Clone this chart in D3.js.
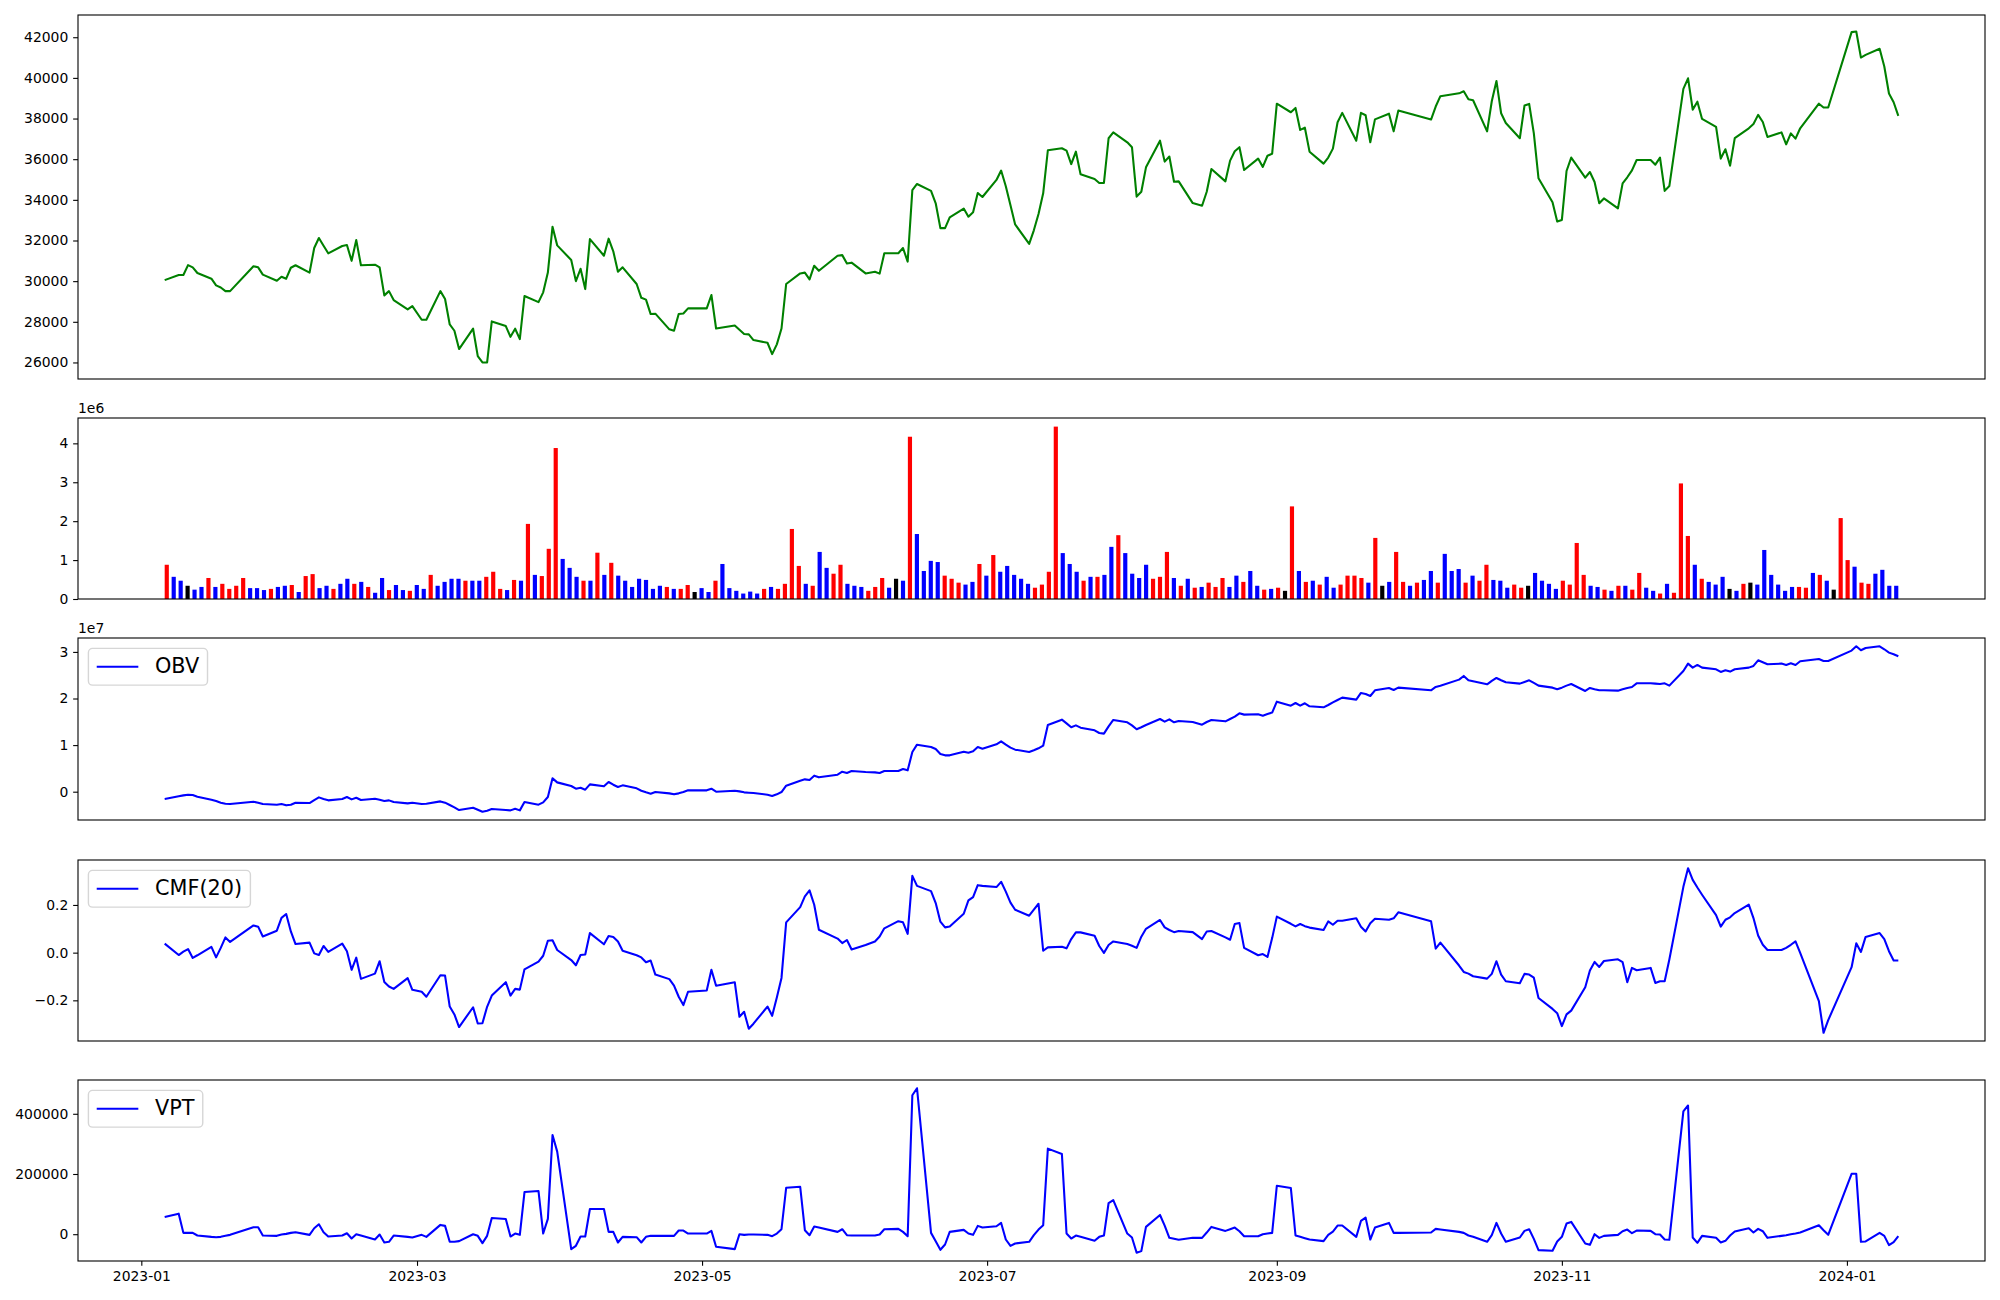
<!DOCTYPE html>
<html><head><meta charset="utf-8">
<script src="https://cdn.jsdelivr.net/npm/d3@7"></script>
<style>body{margin:0;background:#fff}svg{display:block}</style>
</head><body>
<svg id="c" width="2000" height="1300"></svg>
<script>
// ---------- data ----------
const startDate = "2023-01-06", endDate = "2024-01-12";
const holidays = ["2023-01-23","2023-01-24","2023-03-01","2023-05-01","2023-05-05","2023-05-29","2023-06-06","2023-08-15","2023-09-28","2023-09-29","2023-10-02","2023-10-03","2023-10-09","2023-12-25","2023-12-29","2024-01-01"];

const price = [30050,30300,30300,30790,30680,30400,30120,29790,29690,29510,
29510,30730,30680,30320,30020,30220,30120,30660,30780,30420,
31630,32120,31740,31370,31730,31780,31000,32020,30780,30810,
30680,29300,29510,29070,28610,28770,28100,28100,29510,29120,
27870,27560,26660,27660,26310,26000,26000,28020,27790,27260,
27660,27150,29270,28970,29450,30420,32680,31760,31040,30000,
30610,29610,32070,31250,32090,31470,30460,30680,29860,29180,
29090,28380,28400,27630,27560,28380,28410,28660,28660,29320,
27670,27820,27610,27400,27380,27100,26970,26410,26890,27670,
29860,30380,30420,30090,30760,30510,31250,31280,30870,30910,
30380,30460,30370,31370,31370,31630,30960,34480,34780,34440,
33830,32610,32610,33140,33570,33170,33390,34340,34140,34980,
35440,34670,33730,32790,31830,32500,33300,34320,36440,36540,
36420,35760,36370,35260,35030,34830,34830,37030,37320,36830,
36590,34160,34400,35600,36910,35880,36130,34890,34910,33840,
33710,34400,35520,34910,35930,36390,36590,35470,36030,35620,
36170,36270,38730,38310,38520,37440,37550,36370,35780,36080,
36520,37820,38280,36910,38280,38160,36830,37960,38240,37370,
38390,37950,38590,39100,39240,39340,38950,38900,37370,38850,
39850,38260,37780,37030,38640,38720,37270,35060,33880,32930,
33010,35420,36080,35090,35370,34880,33830,34070,33580,34810,
35110,35450,35960,35960,35730,36080,34440,34680,39460,39980,
38440,38830,37980,37590,36030,36490,35680,37040,37520,37730,
38180,37830,37090,37320,36730,37270,37010,37520,38730,38540,
38540,42250,42280,41000,41130,41430,40560,39230,38800,38130];

const volume = [880000,570000,470000,340000,240000,310000,540000,310000,390000,260000,
340000,540000,280000,280000,230000,260000,310000,340000,360000,180000,
590000,640000,280000,340000,260000,390000,520000,390000,440000,310000,
160000,540000,230000,360000,230000,210000,360000,260000,620000,340000,
440000,520000,520000,470000,470000,470000,570000,700000,260000,230000,
490000,470000,1930000,620000,590000,1290000,3880000,1030000,800000,570000,
470000,470000,1190000,620000,930000,600000,470000,310000,520000,490000,
260000,340000,310000,260000,260000,360000,180000,280000,180000,470000,
900000,280000,210000,140000,190000,140000,260000,310000,260000,390000,
1800000,850000,390000,340000,1210000,800000,650000,880000,390000,340000,
310000,210000,310000,540000,290000,520000,470000,4170000,1670000,720000,
980000,950000,600000,520000,420000,370000,440000,900000,600000,1130000,
700000,850000,620000,520000,390000,290000,370000,700000,4430000,1180000,
900000,700000,470000,570000,570000,620000,1340000,1640000,1180000,650000,
540000,880000,520000,570000,1210000,540000,340000,520000,290000,310000,
420000,310000,540000,310000,600000,440000,720000,340000,240000,260000,
290000,210000,2380000,720000,440000,470000,370000,570000,290000,370000,
600000,600000,540000,420000,1570000,340000,440000,1210000,440000,340000,
420000,490000,720000,420000,1160000,720000,770000,420000,600000,470000,
880000,490000,470000,290000,370000,290000,340000,670000,470000,390000,
260000,470000,370000,1440000,620000,340000,310000,240000,210000,340000,
340000,240000,670000,290000,210000,140000,390000,160000,2970000,1620000,
880000,520000,440000,370000,570000,260000,210000,390000,420000,370000,
1260000,620000,370000,210000,310000,310000,290000,670000,620000,470000,
240000,2080000,1000000,830000,420000,390000,650000,750000,340000,340000];

// r = up (red), b = down (blue), k = unchanged (black)
const volumeDirection = ("rbbkbbrbrr"+"rrbbbrbbrb"+"rrbbrbbrbr"+"bbrbbrbbrb"+"bbbrbbrrrb"+
"rbrbrrrbbb"+"rbrbrbbbbb"+"bbrbrrkbbr"+"bbbbbbrbrr"+"rrbrbbrrbb"+
"brrrbkbrbb"+"bbrrrbbrbr"+"bbbbbrrrrb"+"bbrbrbbrbb"+"bbrrrbrbrb"+
"rrrbbrbbrb"+"rkrbrbrbbr"+"rrrbrkbrrb"+"rbbrbbbrbr"+"rbbbrrkbbb"+
"brrrrbbrbr"+"brrbbrbrrr"+"brbbbkbrkb"+"bbbbbrrbrb"+"krrbrrbbbb").split("");

const obv = [-1570000,-1000000,-790000,-640000,-720000,-1070000,-1720000,-2000000,-2360000,-2580000,
-2650000,-2150000,-2360000,-2650000,-2790000,-2650000,-2930000,-2790000,-2360000,-2430000,
-1790000,-1220000,-1570000,-1860000,-1570000,-1150000,-1650000,-1290000,-1790000,-1500000,
-1720000,-2000000,-1860000,-2220000,-2510000,-2360000,-2650000,-2580000,-2080000,-2360000,
-2860000,-3360000,-3940000,-3440000,-3870000,-4300000,-4080000,-3720000,-3940000,-4010000,
-3650000,-4010000,-2220000,-2790000,-2290000,-1150000,2860000,2000000,1220000,640000,
860000,430000,1570000,1150000,2080000,1500000,1000000,1360000,720000,210000,
-140000,-430000,-70000,-360000,-570000,-360000,-70000,290000,290000,640000,
0,210000,70000,-140000,-210000,-290000,-640000,-930000,-570000,-70000,
1290000,2360000,2650000,2510000,3440000,3080000,3650000,4290000,4010000,4440000,
4220000,4150000,4010000,4440000,4440000,4870000,4580000,8520000,10090000,9590000,
9160000,8090000,7800000,7800000,8590000,8380000,8660000,9590000,9230000,10160000,
10810000,10090000,9450000,9020000,8520000,8880000,9310000,9880000,14320000,15460000,
14670000,13820000,14240000,13740000,13170000,12600000,12460000,14030000,15390000,14890000,
14240000,13390000,13820000,14320000,15600000,15030000,15530000,14890000,15180000,14960000,
14390000,14960000,15390000,15100000,15600000,16110000,16820000,16540000,16610000,16320000,
16680000,16970000,19330000,18470000,19040000,18470000,18970000,18330000,18110000,18610000,
19180000,19690000,20190000,19760000,21190000,20970000,20540000,21760000,22260000,21830000,
22330000,21760000,22480000,22760000,24050000,24840000,23910000,23690000,23050000,23770000,
24410000,23910000,23480000,23190000,23550000,23910000,23340000,22760000,22330000,21980000,
22330000,22760000,23120000,21620000,22260000,21980000,21760000,21760000,21690000,21980000,
22260000,22480000,23260000,23260000,23190000,23120000,23260000,22760000,25910000,27490000,
26630000,27200000,26630000,26270000,25700000,26060000,25770000,26270000,26630000,26990000,
28200000,27770000,27340000,27490000,27200000,27560000,27200000,27990000,28490000,28060000,
28060000,30280000,31210000,30350000,30850000,31210000,30570000,29850000,29490000,29060000];

const cmf = [0.038,-0.010,0.004,0.015,-0.022,-0.011,0.024,-0.020,0.020,0.064,
0.045,0.114,0.109,0.068,0.092,0.146,0.162,0.089,0.036,0.042,
-0.003,-0.010,0.028,0.003,0.038,0.006,-0.072,-0.021,-0.110,-0.088,
-0.036,-0.123,-0.142,-0.152,-0.107,-0.156,-0.164,-0.185,-0.095,-0.096,
-0.226,-0.259,-0.312,-0.229,-0.297,-0.296,-0.227,-0.180,-0.124,-0.180,
-0.152,-0.155,-0.070,-0.038,-0.013,0.050,0.052,0.011,-0.031,-0.053,
-0.010,-0.008,0.082,0.035,0.070,0.066,0.047,0.008,-0.011,-0.020,
-0.040,-0.033,-0.092,-0.111,-0.138,-0.185,-0.220,-0.164,-0.159,-0.072,
-0.139,-0.124,-0.269,-0.248,-0.319,-0.298,-0.226,-0.265,-0.188,-0.106,
0.127,0.191,0.236,0.261,0.201,0.096,0.059,0.040,0.053,0.013,
0.032,0.047,0.068,0.102,0.132,0.127,0.079,0.322,0.280,0.258,
0.208,0.130,0.106,0.110,0.163,0.219,0.233,0.283,0.280,0.275,
0.297,0.256,0.210,0.180,0.155,0.180,0.205,0.008,0.022,0.025,
0.018,0.057,0.085,0.085,0.071,0.028,-0.001,0.032,0.047,0.036,
0.029,0.020,0.067,0.100,0.137,0.106,0.095,0.086,0.091,0.086,
0.057,0.089,0.091,0.064,0.054,0.120,0.124,0.020,-0.011,-0.006,
-0.018,0.061,0.151,0.121,0.110,0.120,0.111,0.105,0.095,0.131,
0.117,0.134,0.134,0.144,0.109,0.089,0.123,0.142,0.138,0.144,
0.169,0.132,0.017,0.042,-0.054,-0.081,-0.088,-0.099,-0.109,-0.089,
-0.036,-0.092,-0.120,-0.128,-0.089,-0.092,-0.105,-0.190,-0.236,-0.254,
-0.308,-0.259,-0.243,-0.145,-0.075,-0.039,-0.060,-0.035,-0.028,-0.040,
-0.124,-0.064,-0.074,-0.064,-0.127,-0.120,-0.120,-0.029,0.276,0.354,
0.305,0.273,0.243,0.157,0.109,0.138,0.148,0.166,0.201,0.145,
0.072,0.033,0.011,0.011,0.020,0.033,0.047,-0.001,-0.203,-0.336,
-0.283,-0.061,0.039,0.003,0.066,0.082,0.057,0.006,-0.033,-0.033];

const vpt = [57300,68300,4400,4400,4400,-4400,-8800,-9900,-8800,-5500,
-2200,23100,23100,-4400,-5500,-1100,1100,4400,6600,-2200,
19800,33100,6600,-7700,-4400,3300,-14300,0,-4400,-17600,
-1100,-27500,-25300,-4400,-8800,-11000,-2200,-8800,30900,27600,
-25300,-25300,-23100,0,-5500,-29800,-5500,54000,50700,-7700,
2200,-2200,140000,143300,2200,50700,329500,274400,-49600,-38600,
-7700,-7700,83800,83800,7700,7700,-27500,-8800,-9900,-27500,
-8800,-5500,-5500,-5500,-5500,12100,12100,2200,2200,11000,
-41900,-49600,0,-2200,-1100,-1100,-2200,-6600,2200,16500,
154300,157600,13200,-3300,25300,22000,7700,16500,-3300,-4400,
-4400,-4400,-1100,16500,17600,7700,-6600,461700,484900,4400,
-23100,-51800,-34200,7700,14300,2200,-2200,27600,22000,26400,
37500,-17600,-38600,-30900,-25300,-3300,15400,29800,284300,266700,
2200,-14300,-4400,-8800,-22000,-8800,-4400,103600,113500,2200,
-11000,-61700,-56200,24200,63900,28700,-12100,-15400,-18700,-12100,
-12100,5500,24200,11000,16500,22000,9900,-6600,-6600,0,
2200,4400,160900,153200,-4400,-8800,-13200,-17600,-23100,-2200,
8800,28700,28700,-8800,44100,55100,-17600,22000,37500,4400,
4400,5500,17600,15400,7700,4400,-4400,-8800,-25300,-3300,
37500,2200,-25300,-11000,11000,16500,-15400,-52900,-55100,-24200,
-8800,35300,40800,-30900,-35300,0,-12100,-5500,-2200,9900,
15400,3300,12100,11000,0,-1100,-17600,-18700,407700,427600,
-11000,-28700,-5500,-12100,-27500,-22000,-4400,8800,19800,5500,
17600,9900,-12100,-5500,-3300,0,2200,5500,29800,13200,
-2200,200600,200600,-25300,-24200,4400,-5500,-36400,-26400,-6600];

const priceTicks = [26000,28000,30000,32000,34000,36000,38000,40000,42000];
const volumeTicks = [0,1e6,2e6,3e6,4e6];
const obvTicks = [0,1e7,2e7,3e7];
const cmfTicks = [-0.2,0,0.2];
const vptTicks = [0,200000,400000];
const dateTicks = ["2023-01-01","2023-03-01","2023-05-01","2023-07-01","2023-09-01","2023-11-01","2024-01-01"];

// ---------- trading calendar ----------
const parse = d3.utcParse("%Y-%m-%d"), fmtDay = d3.utcFormat("%Y-%m-%d");
const hol = new Set(holidays);
const dates = d3.utcDay.range(parse(startDate), d3.utcDay.offset(parse(endDate), 1))
  .filter(d => d.getUTCDay() !== 0 && d.getUTCDay() !== 6 && !hol.has(fmtDay(d)));

// ---------- layout ----------
const svg = d3.select("#c");
const FONT = "DejaVu Sans";
const L = 78, R = 1985;
const panels = [[15,379],[418,599],[638,820],[860,1041],[1080,1261]];
const TICK = 4.86, PAD = 4.86, FS = 13.9;

function pad5(ext){ const s = ext[1]-ext[0]; return [ext[0]-0.05*s, ext[1]+0.05*s]; }

const t0 = dates[0].getTime(), t1 = dates[dates.length-1].getTime();
const x = d3.scaleUtc().domain(pad5([t0,t1]).map(t => new Date(t))).range([L, R]);

const BW = 0.6, n = volume.length;
const xi = d3.scaleLinear().domain(pad5([-BW/2, n-1+BW/2])).range([L, R]);

function frame(p){
  const [top,bot] = panels[p];
  svg.append("rect").attr("x",L).attr("y",top).attr("width",R-L).attr("height",bot-top)
    .attr("fill","none").attr("stroke","#000").attr("stroke-width",1.1);
}
function yAxis(p, y, ticks, fmt){
  const g = svg.append("g").attr("transform",`translate(${L},0)`);
  const ax = d3.axisLeft(y).tickValues(ticks).tickFormat(fmt).tickSize(TICK).tickPadding(PAD);
  g.call(ax);
  g.select(".domain").remove();
  g.selectAll(".tick line").attr("stroke","#000").attr("stroke-width",1.1);
  g.selectAll(".tick text").attr("font-family",FONT).attr("font-size",FS).attr("fill","#000");
}
function offsetText(p, txt){
  svg.append("text").attr("x",L).attr("y",panels[p][0]-5).attr("font-family",FONT)
    .attr("font-size",FS).attr("fill","#000").text(txt);
}
function legend(p, label){
  const fs = 20.8, top = panels[p][0] + 10.4, left = L + 10.4;
  const t = svg.append("text").attr("font-family",FONT).attr("font-size",fs).text(label)
    .attr("x", left + 0.4*fs + 2*fs + 0.8*fs).attr("y", top + 0.4*fs + 0.76*fs).attr("fill","#000");
  const tw = t.node().getComputedTextLength();
  const w = 0.4*fs + 2*fs + 0.8*fs + tw + 0.4*fs, h = 0.8*fs + 0.968*fs;
  svg.insert("rect", () => t.node()).attr("x",left).attr("y",top).attr("width",w).attr("height",h)
    .attr("rx",4.2).attr("ry",4.2).attr("fill","rgba(255,255,255,0.8)")
    .attr("stroke","rgba(204,204,204,0.8)").attr("stroke-width",1.39);
  svg.append("line").attr("x1",left+0.4*fs).attr("x2",left+2.4*fs)
    .attr("y1",top+h/2).attr("y2",top+h/2).attr("stroke","blue").attr("stroke-width",2.08);
}
function linePanel(p, values, color, ticks, fmt){
  const [top,bot] = panels[p];
  const y = d3.scaleLinear().domain(pad5(d3.extent(values))).range([bot, top]);
  svg.append("path").datum(values)
    .attr("d", d3.line().x((v,i) => x(dates[i])).y(v => y(v)))
    .attr("fill","none").attr("stroke",color).attr("stroke-width",2.08)
    .attr("stroke-linejoin","round").attr("stroke-linecap","butt");
  yAxis(p, y, ticks, fmt);
  frame(p);
  return y;
}

// Panel 1: price
linePanel(0, price, "green", priceTicks, d => String(d));

// Panel 2: volume
{
  const [top,bot] = panels[1];
  const y = d3.scaleLinear().domain([0, d3.max(volume)*1.05]).range([bot, top]);
  const colorOf = {r:"red", b:"blue", k:"black"};
  svg.append("g").selectAll("rect").data(volume).join("rect")
    .attr("x",(v,i) => xi(i - BW/2)).attr("width", xi(BW) - xi(0))
    .attr("y", v => y(v)).attr("height", v => y(0) - y(v))
    .attr("fill", (v,i) => colorOf[volumeDirection[i]]);
  yAxis(1, y, volumeTicks, d => String(d/1e6));
  offsetText(1, "1e6");
  frame(1);
}

// Panel 3: OBV
linePanel(2, obv, "blue", obvTicks, d => String(d/1e7));
offsetText(2, "1e7");
legend(2, "OBV");

// Panel 4: CMF
linePanel(3, cmf, "blue", cmfTicks, d => d3.format(".1f")(d).replace("-", "\u2212"));
legend(3, "CMF(20)");

// Panel 5: VPT
linePanel(4, vpt, "blue", vptTicks, d => String(d));
legend(4, "VPT");

// bottom date axis
{
  const g = svg.append("g").attr("transform",`translate(0,${panels[4][1]})`);
  g.call(d3.axisBottom(x).tickValues(dateTicks.map(parse)).tickFormat(d3.utcFormat("%Y-%m"))
    .tickSize(TICK).tickPadding(PAD));
  g.select(".domain").remove();
  g.selectAll(".tick line").attr("stroke","#000").attr("stroke-width",1.1);
  g.selectAll(".tick text").attr("font-family",FONT).attr("font-size",FS).attr("fill","#000");
}
</script>
</body></html>
